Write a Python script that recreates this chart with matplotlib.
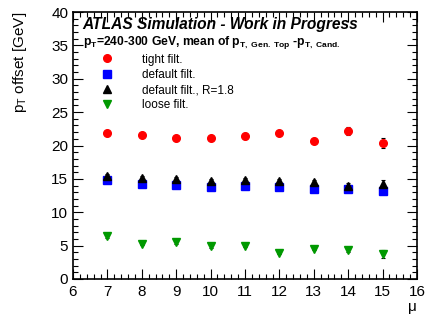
import matplotlib
matplotlib.use("Agg")
import matplotlib.pyplot as plt
from matplotlib.ticker import MultipleLocator
from matplotlib.lines import Line2D

plt.rcParams["font.family"] = ["Liberation Sans", "DejaVu Sans"]
plt.rcParams["mathtext.fontset"] = "custom"
plt.rcParams["mathtext.rm"] = "Liberation Sans"
plt.rcParams["mathtext.it"] = "Liberation Sans:italic"
plt.rcParams["mathtext.bf"] = "Liberation Sans:bold"

mu = [7, 8, 9, 10, 11, 12, 13, 14, 15]
tight = [21.8, 21.5, 21.1, 21.1, 21.4, 21.9, 20.7, 22.1, 20.4]
tight_err = [0.3, 0.3, 0.3, 0.3, 0.5, 0.3, 0.4, 0.6, 0.7]
default = [14.9, 14.2, 14.1, 13.8, 14.0, 13.8, 13.5, 13.5, 13.2]
default_err = [0.3, 0.3, 0.3, 0.3, 0.3, 0.3, 0.3, 0.4, 0.5]
default_r18 = [15.5, 15.1, 15.0, 14.7, 14.9, 14.7, 14.6, 14.0, 14.2]
default_r18_err = [0.3, 0.3, 0.3, 0.3, 0.3, 0.3, 0.3, 0.4, 0.6]
loose = [6.4, 5.3, 5.5, 4.9, 5.0, 3.9, 4.5, 4.3, 3.7]
loose_err = [0.2, 0.2, 0.2, 0.2, 0.2, 0.2, 0.2, 0.3, 0.6]

fig = plt.figure(figsize=(4.27, 3.22), dpi=100)
ax = fig.add_axes([73 / 427, 1 - 279 / 322, 344 / 427, 267 / 322])

series = [
    (tight, tight_err, "o", "#ff0000", "tight filt."),
    (default, default_err, "s", "#0000ff", "default filt."),
    (default_r18, default_r18_err, "^", "black", "default filt., R=1.8"),
    (loose, loose_err, "v", "#009900", "loose filt."),
]
handles = []
for vals, err, m, c, lab in series:
    ax.errorbar(mu, vals, yerr=err, fmt=m, color=c, ms=5.5, ecolor="black",
                elinewidth=0.8, capsize=1.5, capthick=0.8)
    handles.append(Line2D([], [], ls="none", marker=m, color=c, ms=5.5, label=lab))

ax.set_xlim(6, 16)
ax.set_ylim(0, 40)
ax.xaxis.set_major_locator(MultipleLocator(1))
ax.xaxis.set_minor_locator(MultipleLocator(0.2))
ax.yaxis.set_major_locator(MultipleLocator(5))
ax.yaxis.set_minor_locator(MultipleLocator(1))
ax.tick_params(which="both", direction="in", top=True, right=True, labelsize=11)
ax.tick_params(which="major", length=7, width=0.8)
ax.tick_params(which="minor", length=3.5, width=0.8)
ax.tick_params(axis="x", pad=4)
for s in ax.spines.values():
    s.set_linewidth(1.2)

ax.set_xlabel("μ", fontsize=11, loc="right", labelpad=1)
ax.set_ylabel(r"p$_\mathregular{T}$ offset [GeV]", fontsize=11, loc="top", labelpad=16)

ax.text(0.028, 0.955, "ATLAS Simulation - Work in Progress", transform=ax.transAxes,
        fontsize=11.2, fontweight="bold", fontstyle="italic", va="center")
ax.text(0.028, 0.885,
        r"$\mathbf{p_{T}}$=240-300 GeV, mean of $\mathbf{p_{T,\ Gen.\ Top}}$ -$\mathbf{p_{T,\ Cand.}}$",
        transform=ax.transAxes, fontsize=8.7, fontweight="bold", va="center")

ax.legend(handles=handles, loc="upper left", bbox_to_anchor=(0.06, 0.862), frameon=False,
          fontsize=8.5, handletextpad=2.2, labelspacing=0.28, borderaxespad=0,
          handlelength=1.5)

fig.savefig("out.png", dpi=100)
